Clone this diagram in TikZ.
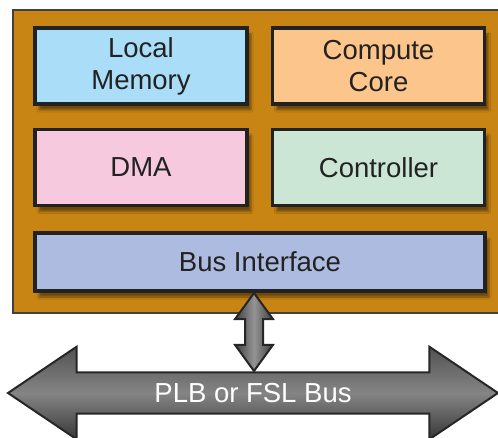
\documentclass[tikz,border=0pt]{standalone}
\usepackage{fontspec}
\setmainfont{Liberation Sans}
\usepackage{tikz}
\usetikzlibrary{positioning}
\usetikzlibrary{calc}
\usetikzlibrary{shapes.arrows}
\usetikzlibrary{shadows.blur}
\definecolor{chiporange}{RGB}{201,133,20}
\definecolor{memblue}{RGB}{170,221,248}
\definecolor{corepeach}{RGB}{252,197,140}
\definecolor{dmapink}{RGB}{246,201,222}
\definecolor{ctrlgreen}{RGB}{204,230,214}
\definecolor{busblue}{RGB}{174,187,224}
\definecolor{edgegray}{RGB}{34,34,34}

\begin{document}
\begin{tikzpicture}[
    x=1pt, y=-1pt,
    box/.style={
        draw=edgegray, line width=3.5pt,
        minimum width=212pt,
        minimum height=76pt,
        text=edgegray,
        font=\fontsize{27.5}{32}\selectfont,
        align=center,
        blur shadow={shadow xshift=4pt, shadow yshift=-6pt, shadow opacity=45}
    },
    fatarrow/.style={
        shape=double arrow, draw=black!85, line width=2pt,
        double arrow head indent=0pt
    }
]
\useasboundingbox (0,0) rectangle (498,438);
\draw[fill=chiporange, draw=black!75, line width=2.5pt] (13,10) rectangle (520,313);
\node[box, fill=memblue] (lmem) at (141,66) {Local\\Memory};
\node[box, fill=corepeach, right=22pt of lmem] (core) {Compute\\Core};
\node[box, fill=dmapink, below=22pt of lmem] (dma) {DMA};
\node[box, fill=ctrlgreen, below=22pt of core] (ctrl) {Controller};
\node[box, fill=busblue, minimum width=450pt, minimum height=58pt,
      below=24pt of dma.south west, anchor=north west] (busif) {Bus Interface};
\node[fatarrow, minimum height=490pt, minimum width=90pt,
      inner xsep=0pt, inner ysep=10pt,
      double arrow head extend=25.5pt, double arrow tip angle=68,
      top color=black!68, bottom color=black!78, middle color=black!48,
      text=white, font=\fontsize{27.5}{32}\selectfont] (plb) at (253,393) {PLB or FSL Bus};
\node[fatarrow, shape border rotate=90, minimum height=78pt, minimum width=38pt,
      inner sep=8pt,
      double arrow head extend=10pt, double arrow tip angle=72,
      left color=black!75, right color=black!75, middle color=black!42] (link) at (254,332) {};
\end{tikzpicture}
\end{document}
